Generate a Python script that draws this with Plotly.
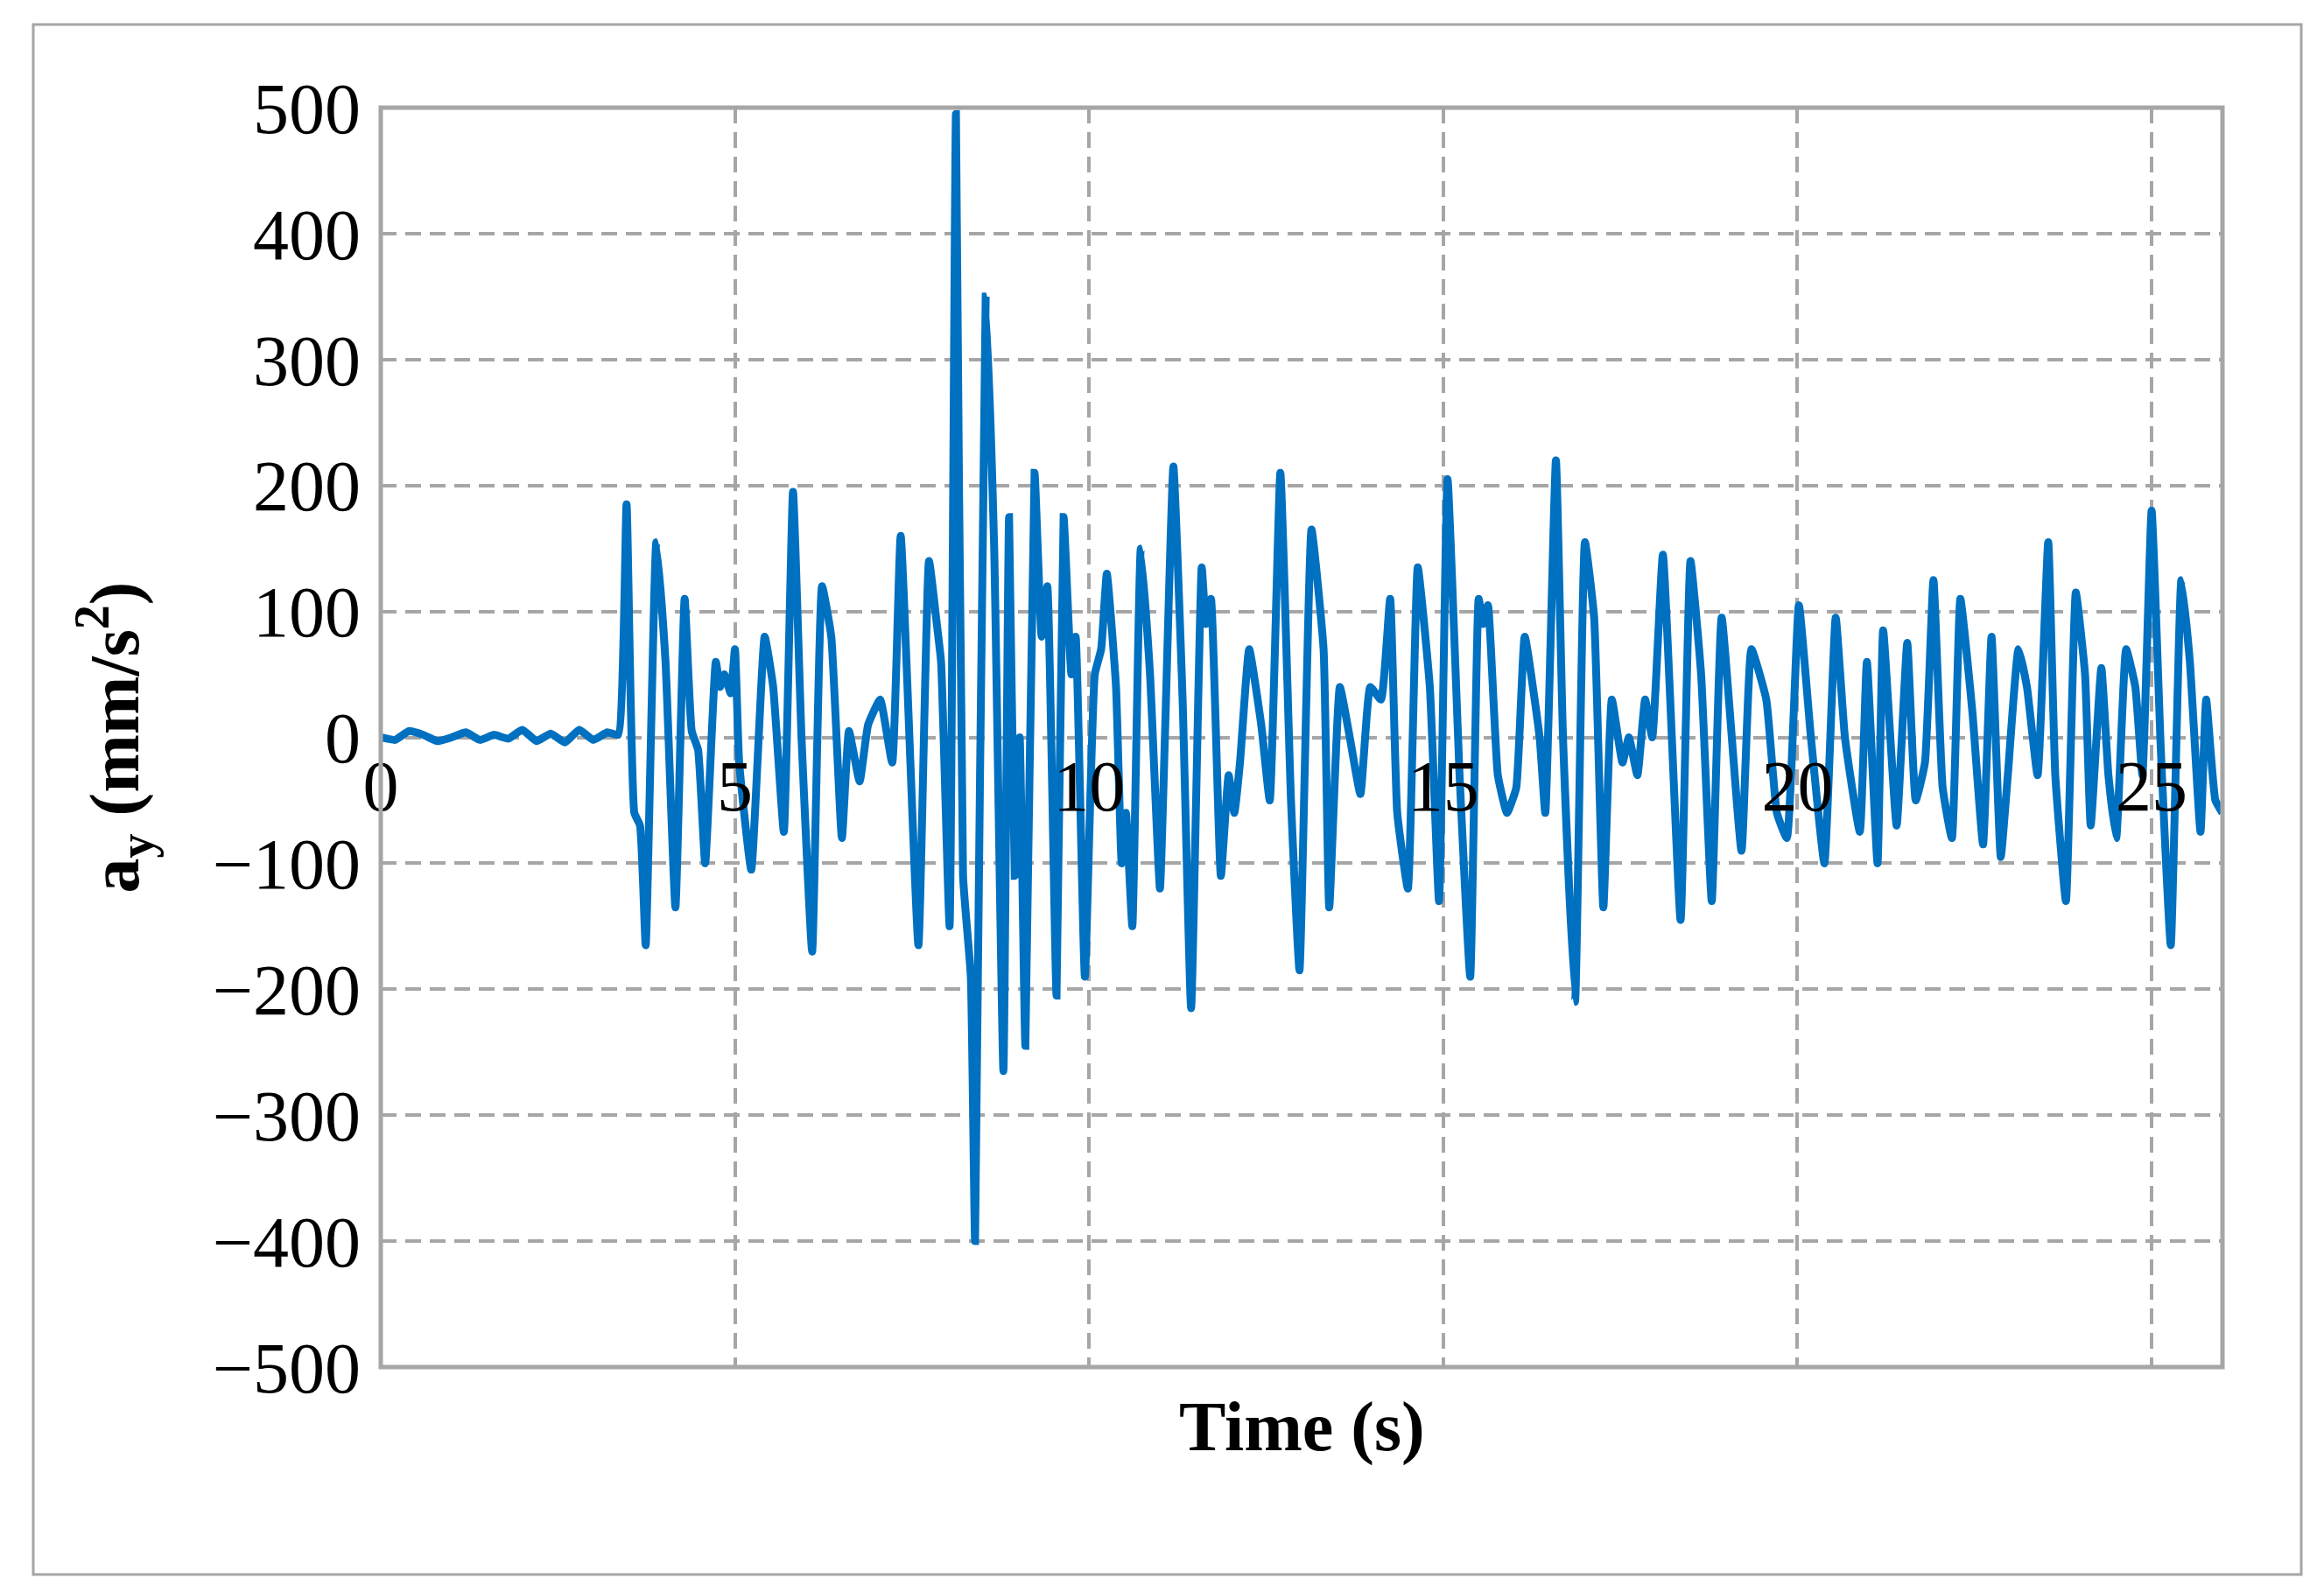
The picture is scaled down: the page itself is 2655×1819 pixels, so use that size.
import plotly.graph_objects as go

time_s = [0,0.2,0.4,0.6,0.8,1.0,1.2,1.4,1.6,1.8,2.0,2.2,2.4,2.6,2.8,3.0,3.2,3.35,
3.47,3.58,3.66,3.74,3.89,4.02,4.16,4.29,4.39,4.48,4.58,4.73,4.79,4.85,4.94,5.0,5.06,5.23,5.42,5.54,5.69,5.82,5.94,
6.09,6.23,6.36,6.51,6.61,6.76,6.88,7.05,7.22,7.34,7.59,7.74,7.85,7.91,8.03,8.12,8.22,8.33,8.39,8.54,8.66,8.79,8.87,
8.95,9.02,9.1,9.23,9.33,9.41,9.54,9.64,9.75,9.81,9.94,10.08,10.17,10.25,10.38,10.46,10.52,10.61,10.73,10.86,11.0,
11.07,11.19,11.32,11.44,11.59,11.65,11.72,11.86,11.97,12.05,12.13,12.26,12.43,12.55,12.7,12.85,12.97,13.14,13.31,
13.39,13.54,13.68,13.83,13.97,14.12,14.25,14.35,14.5,14.64,14.81,14.94,15.06,15.23,15.38,15.5,15.56,15.63,15.77,
15.9,16.03,16.15,16.36,16.44,16.59,16.69,16.86,17.0,17.13,17.26,17.38,17.53,17.62,17.74,17.85,17.95,18.1,18.35,
18.49,18.64,18.79,18.93,19.21,19.35,19.56,19.71,19.85,20.02,20.19,20.38,20.54,20.67,20.88,20.98,21.13,21.21,21.4,
21.55,21.67,21.8,21.92,22.05,22.18,22.3,22.47,22.62,22.74,22.87,22.97,23.12,23.24,23.39,23.54,23.64,23.79,23.93,
24.06,24.14,24.29,24.39,24.5,24.64,24.77,24.87,25.0,25.13,25.27,25.42,25.54,25.69,25.77,25.9,26.0]
accel = [0,-2,5,2,-3,0,4,-2,2,-1,6,-3,3,-4,6,-2,4,2,
185,-60,-70,-165,155,60,-135,110,5,-10,-100,60,40,50,35,70,-20,-105,80,40,-75,195,0,
-170,120,80,-80,5,-35,10,30,-20,160,-165,140,90,60,-150,495,-110,-190,-400,350,150,-265,175,
-110,0,-245,210,80,120,-205,175,50,80,-190,50,70,130,40,-100,-60,-150,150,50,-120,
0,215,30,-215,135,90,110,-110,-30,-60,-20,70,10,-50,210,-50,-185,165,70,
-135,40,0,-45,40,30,110,-60,-120,135,40,-130,205,-30,-190,110,90,105,-30,
-60,-40,80,0,-60,220,0,-210,155,95,-135,30,-20,0,-30,30,0,145,-145,
140,50,-130,95,-90,70,30,-60,-80,105,0,-100,95,0,-75,60,-100,85,-70,
75,-50,-20,125,-40,-80,110,20,-85,80,-95,-30,70,40,-30,155,-30,-130,115,
50,-70,55,-30,-80,70,40,-30,180,-10,-165,125,60,-75,30,-50,-60]
x_ticks = [0,5,10,15,20,25]
y_ticks = list(range(-500, 501, 100))

W, H = 2655, 1819
L, R, T, B = 427, 124, 115, 265
pw, ph = W - L - R, H - T - B
def px(x): return (x - L) / pw
def py(y): return (H - B - y) / ph

font = "Liberation Serif"
fig = go.Figure(go.Scatter(x=time_s, y=accel, mode="lines",
                           line=dict(color="#0070C0", width=9, shape="spline", smoothing=0.4),
                           showlegend=False))
grid = dict(showgrid=True, gridcolor="#A6A6A6", gridwidth=4, griddash="18px,10px", zeroline=False)
fig.update_layout(
    width=W, height=H, margin=dict(l=L, r=R, t=T, b=B),
    paper_bgcolor="white", plot_bgcolor="white",
    font=dict(family=font, size=82, color="black"),
    xaxis=dict(range=[0, 26], tickvals=x_ticks, anchor="free", position=0.5,
               showline=False, ticks="", **grid),
    yaxis=dict(range=[-500, 500], tickvals=y_ticks, ticks="", showline=False,
               ticklabelstandoff=22, **grid),
    shapes=[
        dict(type="rect", xref="paper", yref="paper", x0=0, x1=1, y0=0, y1=1,
             line=dict(color="#A6A6A6", width=5)),
        dict(type="rect", xref="paper", yref="paper", x0=px(30), x1=px(2621),
             y0=py(20), y1=py(1791), line=dict(color="#A6A6A6", width=3)),
    ],
    annotations=[
        dict(text="<b>Time (s)</b>", xref="paper", yref="paper", x=0.5, y=py(1622),
             showarrow=False, font=dict(size=80), xanchor="center", yanchor="middle"),
        dict(text="<b>a<sub>y</sub> (mm/s<sup>2</sup>)</b>", xref="paper", yref="paper",
             x=px(122), y=0.5, textangle=-90, showarrow=False, font=dict(size=80),
             xanchor="center", yanchor="middle"),
    ],
)
fig.write_html("out.html")
